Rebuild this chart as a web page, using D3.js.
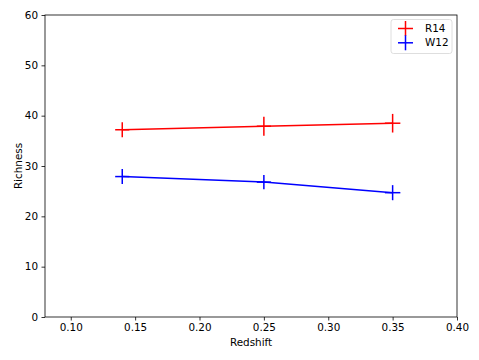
<!DOCTYPE html>
<html>
<head>
<meta charset="utf-8">
<script src="https://cdn.jsdelivr.net/npm/d3@7"></script>
<style>
  body { margin: 0; background: #fff; }
  svg { display: block; font-family: "DejaVu Sans", sans-serif; }
</style>
</head>
<body>
<svg id="chart" width="479" height="360"></svg>
<script>
// values
const redshift = [0.14, 0.25, 0.35];
const r14 = [37.2, 37.9, 38.5];
const r14Err = [1.5, 1.9, 1.85];
const w12 = [27.9, 26.8, 24.7];
const w12Err = [1.5, 1.4, 1.5];
const zErr = [0.0055, 0.0055, 0.006];
const xTicks = [0.10, 0.15, 0.20, 0.25, 0.30, 0.35, 0.40];
const yTicks = [0, 10, 20, 30, 40, 50, 60];

const series = [
  { name: "R14", color: "#ff0000", y: r14, err: r14Err },
  { name: "W12", color: "#0000ff", y: w12, err: w12Err }
];

const margin = { top: 15, right: 22, bottom: 43, left: 45 };
const width = 479, height = 360;

const svg = d3.select("#chart");

const x = d3.scaleLinear().domain([0.08, 0.40]).range([margin.left, width - margin.right]);
const y = d3.scaleLinear().domain([0, 60]).range([height - margin.bottom, margin.top]);

// axes
const xAxis = svg.append("g")
    .attr("transform", `translate(0,${height - margin.bottom})`)
    .call(d3.axisBottom(x).tickValues(xTicks).tickFormat(d3.format(".2f")).tickSizeOuter(0).tickSize(3.5).tickPadding(3.5));

const yAxis = svg.append("g")
    .attr("transform", `translate(${margin.left},0)`)
    .call(d3.axisLeft(y).tickValues(yTicks).tickFormat(d3.format("d")).tickSizeOuter(0).tickSize(3.5).tickPadding(3.5));

svg.selectAll(".tick text")
    .attr("font-size", 10.4)
    .attr("font-family", "DejaVu Sans, sans-serif")
    .attr("fill", "#000");
svg.selectAll(".domain").remove();
svg.selectAll(".tick line").attr("stroke", "#000").attr("stroke-width", 0.8);

// frame
svg.append("rect")
    .attr("x", margin.left)
    .attr("y", margin.top)
    .attr("width", width - margin.left - margin.right)
    .attr("height", height - margin.top - margin.bottom)
    .attr("fill", "none")
    .attr("stroke", "#000")
    .attr("stroke-width", 0.8);

// axis labels
svg.append("text")
    .attr("x", (margin.left + width - margin.right) / 2)
    .attr("y", 346)
    .attr("text-anchor", "middle")
    .attr("font-size", 10.4)
    .text("Redshift");

svg.append("text")
    .attr("transform", `translate(18,${(margin.top + height - margin.bottom) / 2}) rotate(-90)`)
    .attr("text-anchor", "middle")
    .attr("dy", "0.35em")
    .attr("font-size", 10.4)
    .text("Richness");

// lines with error bars
const line = d3.line().x(d => x(d.x)).y(d => y(d.y));

series.forEach(s => {
  const pts = redshift.map((z, i) => ({ x: z, y: s.y[i], e: s.err[i], ze: zErr[i] }));
  const g = svg.append("g").attr("stroke", s.color).attr("stroke-width", 1.5).attr("fill", "none");

  g.append("path").attr("d", line(pts));

  g.selectAll(".ybar")
    .data(pts)
    .join("line")
      .attr("x1", d => x(d.x)).attr("x2", d => x(d.x))
      .attr("y1", d => y(d.y - d.e)).attr("y2", d => y(d.y + d.e));

  g.selectAll(".xbar")
    .data(pts)
    .join("line")
      .attr("x1", d => x(d.x - d.ze)).attr("x2", d => x(d.x + d.ze))
      .attr("y1", d => y(d.y)).attr("y2", d => y(d.y));
});

// legend
const legend = svg.append("g").attr("transform", "translate(391,19.5)");
legend.append("rect")
    .attr("width", 61)
    .attr("height", 34)
    .attr("rx", 2.5)
    .attr("fill", "#fff")
    .attr("fill-opacity", 0.8)
    .attr("stroke", "#d6d6d6")
    .attr("stroke-width", 0.8);

series.forEach((s, i) => {
  const row = legend.append("g").attr("transform", `translate(0,${9 + i * 14.3})`);
  row.append("line")
      .attr("x1", 7).attr("x2", 22).attr("y1", 0).attr("y2", 0)
      .attr("stroke", s.color).attr("stroke-width", 1.5);
  row.append("line")
      .attr("x1", 14.5).attr("x2", 14.5).attr("y1", -7.5).attr("y2", 7.5)
      .attr("stroke", s.color).attr("stroke-width", 1.5);
  row.append("text")
      .attr("x", 34)
      .attr("dy", "0.35em")
      .attr("font-size", 10.4)
      .text(s.name);
});
</script>
</body>
</html>
